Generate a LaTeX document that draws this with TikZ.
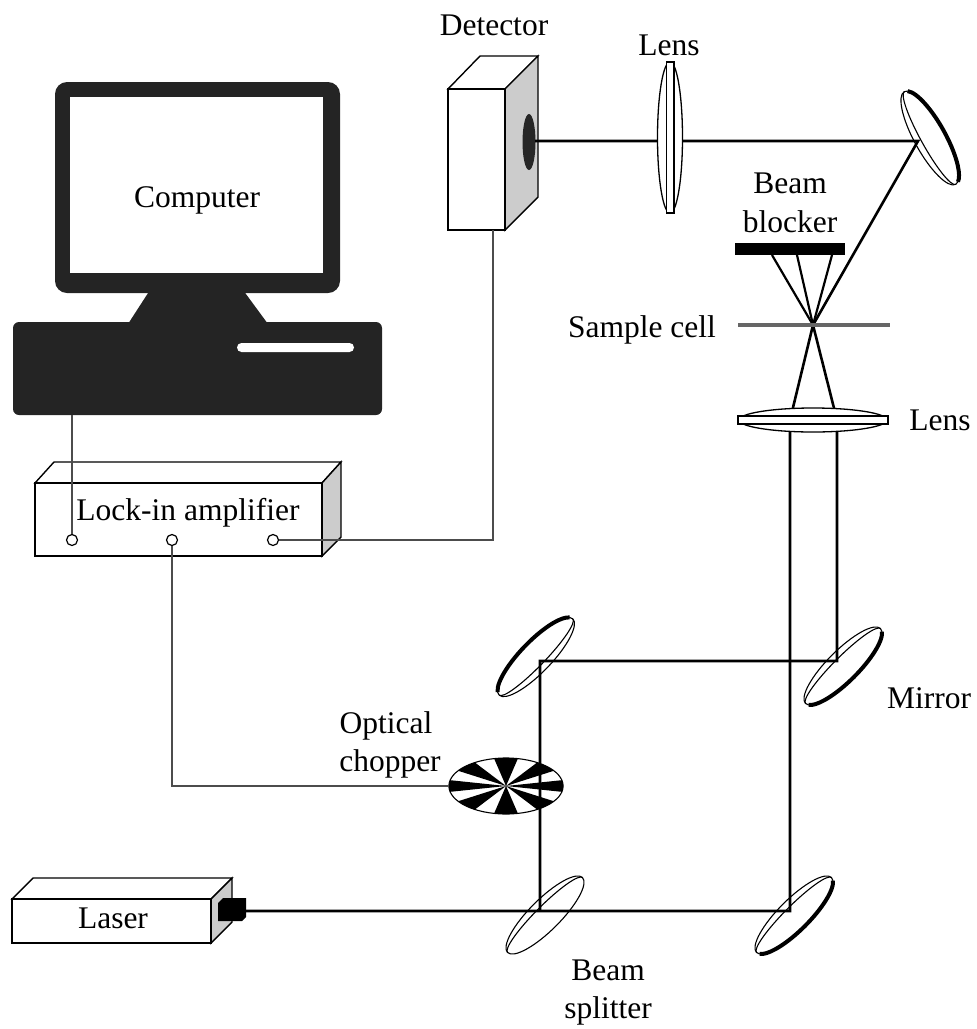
\documentclass[tikz,border=0pt]{standalone}
\usepackage{fontspec}
\setmainfont{Liberation Serif}
\usepackage{tikz}

\definecolor{pcdark}{gray}{0.14}
\definecolor{sidegray}{gray}{0.8}

\tikzset{
	flatmirror/.pic={
		\draw[fill=white, line width=1.1pt] (0,0) ellipse [x radius=53, y radius=15.5];
		\draw[line width=1.1pt] (-53,0) arc [start angle=180, end angle=360, x radius=53, y radius=9];
		\draw[line width=4pt] (12:53 and 15.5) arc [start angle=12, end angle=168, x radius=53, y radius=15.5];
	},
	splitter/.pic={
		\draw[fill=white, line width=1.1pt] (0,0) ellipse [x radius=53, y radius=15.5];
		\draw[line width=1.1pt] (-53,0) arc [start angle=180, end angle=360, x radius=53, y radius=9];
	}
}

\begin{document}
\begin{tikzpicture}[x=1pt, y=-1pt,
	font=\fontsize{31.5}{37}\selectfont,
	beam/.style={line width=2.6pt},
	cable/.style={draw=black!70, line width=1.2pt},
	box/.style={draw, line width=1.4pt, fill=white},
	sideface/.style={draw, line width=1.4pt, fill=sidegray},
	port/.style={circle, draw, line width=1.2pt, fill=white, minimum size=11pt, inner sep=0pt},
	txt/.style={anchor=base, inner sep=0pt}]
	\useasboundingbox (0,0) rectangle (977,1029);

	% computer
	\fill[pcdark, rounded corners=12pt] (55,82) rectangle (340,293);
	\fill[white] (70,97) rectangle (323,273);
	\fill[pcdark] (150,290) -- (243,290) -- (268,324) -- (128,324) -- cycle;
	\fill[pcdark, rounded corners=6pt] (13,322) rectangle (382,415);
	\fill[white, rounded corners=4.5pt] (237,343) rectangle (354,352);
	\node[txt] (computer) at (197,207) {Computer};
	\coordinate (pcout) at (72,415);

	% lock-in amplifier
	\draw[box] (35,483) -- (54,462) -- (341,462) -- (322,483) -- cycle;
	\draw[sideface] (322,483) -- (341,462) -- (341,537) -- (322,556) -- cycle;
	\draw[box] (35,483) rectangle (322,556);
	\node[txt] (lockin) at (188,520) {Lock-in amplifier};
	\node[port] (in1) at (72,540) {};
	\node[port] (in2) at (172,540) {};
	\node[port] (in3) at (273,540) {};

	% detector
	\draw[box] (448,89) -- (480,56) -- (538,56) -- (505,89) -- cycle;
	\draw[sideface] (505,89) -- (538,56) -- (538,197) -- (505,230) -- cycle;
	\draw[box] (448,89) rectangle (505,230);
	\fill[black!85] (529,142) ellipse [x radius=6.5, y radius=28];
	\node[txt] (detector) at (494,35) {Detector};
	\coordinate (detin) at (535,141);
	\coordinate (detout) at (493,230);

	% laser
	\draw[box] (12,899) -- (33,878) -- (232,878) -- (211,899) -- cycle;
	\draw[sideface] (211,899) -- (232,878) -- (232,922) -- (211,943) -- cycle;
	\draw[box] (12,899) rectangle (211,943);
	\fill (218,903) -- (223,898) -- (246,898) -- (246,917) -- (242,921) -- (218,921) -- cycle;
	\node[txt] (laser) at (113,928) {Laser};
	\coordinate (lasout) at (246,911);

	% mirrors and beam splitter
	\pic[rotate=119] at (930,138) {flatmirror};
	\pic[rotate=226] at (536,657) {flatmirror};
	\pic[rotate=45] at (843,666) {flatmirror};
	\pic[rotate=45] at (794,915) {flatmirror};
	\pic[rotate=45] at (545,915) {splitter};

	% chopper wheel
	\begin{scope}[shift={(506,786)}, xscale=2.04]
		\fill[white] (0,0) circle (28);
		\foreach \a in {0,45,...,315}
			\fill (0,0) -- (\a-12:28) arc [start angle=\a-12, end angle=\a+12, radius=28] -- cycle;
		\draw[line width=1.1pt] (0,0) circle (28);
	\end{scope}
	\coordinate (chopin) at (449,786);

	% cables
	\draw[cable] (pcout) -- (in1);
	\draw[cable] (in3) -| (detout);
	\draw[cable] (in2) |- (chopin);

	% beam path
	\coordinate (bs) at (540,911);
	\coordinate (m4) at (790,911);
	\coordinate (m1) at (540,661);
	\coordinate (m2) at (837,661);
	\coordinate (m3) at (918,141);
	\coordinate (focus) at (813,325);
	\draw[beam] (lasout) -- (bs) -- (m4) -- (790,420) -- (focus);
	\draw[beam] (bs) -- (m1) -- (m2) -- (837,420) -- (focus);
	\draw[beam] (focus) -- (m3) -- (detin);
	\foreach \x in {772,797,832}
		\draw[line width=2.2pt] (focus) -- (\x,255);

	% lenses
	\draw[line width=1.3pt, fill=white] (670,137.5) ellipse [x radius=12.5, y radius=75.5];
	\draw[line width=1.3pt, fill=white] (666.5,62) rectangle (674,213);
	\draw[line width=1.3pt, fill=white] (813,420) ellipse [x radius=74, y radius=12];
	\draw[line width=1.3pt, fill=white] (738,416) rectangle (888,424);

	% beam blocker and sample cell
	\fill (735,243) rectangle (845,255);
	\draw[black!60, line width=4pt] (738,325) -- (890,325);

	\node[txt] (lens1) at (669,55) {Lens};
	\node[txt] (blocker1) at (790,193) {Beam};
	\node[txt] (blocker2) at (790,232) {blocker};
	\node[txt] (cell) at (642,337) {Sample cell};
	\node[txt] (lens2) at (940,430) {Lens};
	\node[txt] (mirror) at (929,708) {Mirror};
	\node[txt] (chop1) at (386,733) {Optical};
	\node[txt] (chop2) at (390,771) {chopper};
	\node[txt] (split1) at (608,980) {Beam};
	\node[txt] (split2) at (608,1018) {splitter};
\end{tikzpicture}
\end{document}
